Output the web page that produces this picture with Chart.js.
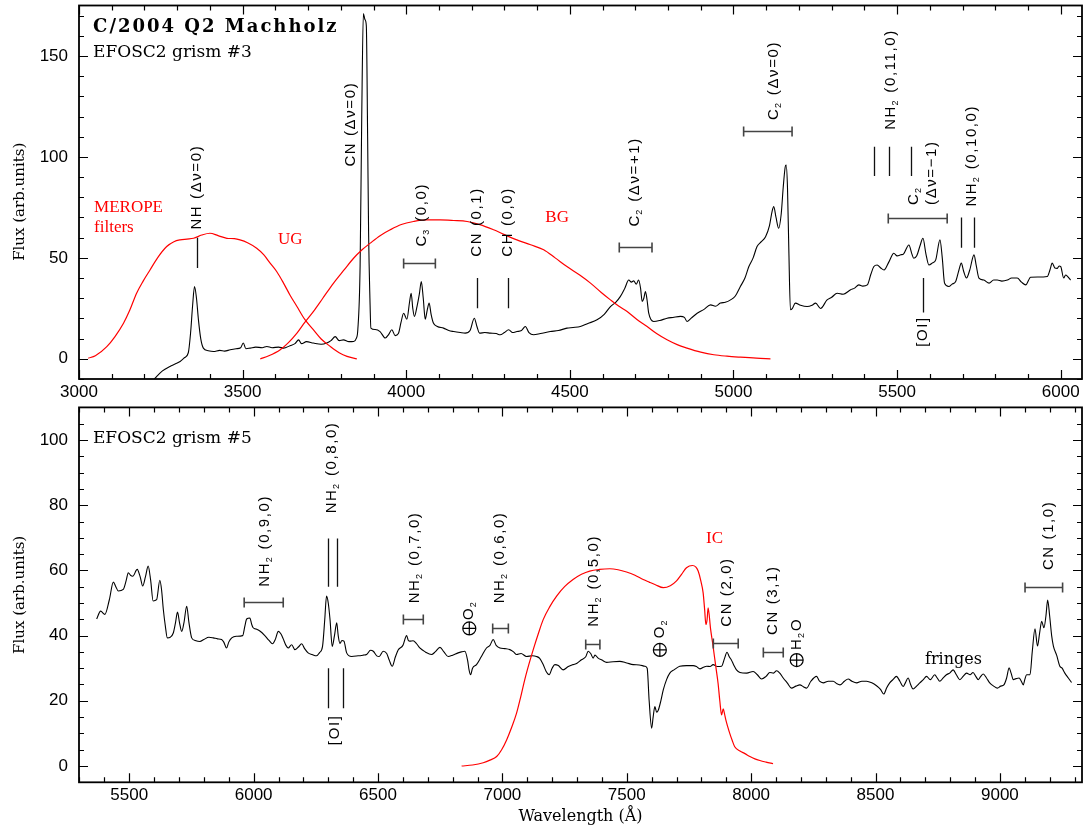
<!DOCTYPE html>
<html>
<head>
<meta charset="utf-8">
<script src="https://cdn.jsdelivr.net/npm/chart.js@4.4.0/dist/chart.umd.min.js"></script>
<style>
  html, body { margin: 0; padding: 0; background: #fff; }
  #wrap { position: relative; width: 1083px; height: 829px; }
  canvas { position: absolute; left: 0; }
  #top { top: 0; }
  #bot { top: 402px; }
</style>
</head>
<body>
<div id="wrap">
  <canvas id="top" width="1083" height="402"></canvas>
  <canvas id="bot" width="1083" height="427"></canvas>
</div>
<script>
// ---- grism #3 spectrum (Å, arb. units)
const topWave = [3230,3255,3278,3295,3309,3322,3334,3341,3347,3353,3359,3365,3372,3380,3395,3411,3430,3445,3462,3480,3494,3502,3510,3523,3540,3560,3574,3590,3610,3625,3645,3660,3671,3680,3695,3716,3740,3757,3770,3783,3795,3808,3825,3839,3847,3852,3859,3864,3869,3874,3878,3882,3885,3889,3892,3905,3920,3936,3946,3956,3966,3976,3984,3992,4002,4010,4015,4020,4025,4033,4040,4046,4052,4058,4064,4070,4076,4083,4095,4114,4130,4145,4165,4180,4195,4208,4216,4224,4240,4257,4275,4287,4300,4313,4325,4338,4352,4364,4375,4389,4410,4440,4465,4491,4510,4532,4555,4583,4605,4624,4640,4654,4668,4680,4688,4695,4703,4710,4716,4721,4726,4731,4736,4741,4756,4775,4797,4815,4838,4850,4858,4870,4889,4910,4930,4945,4960,4975,4991,5005,5021,5035,5047,5060,5072,5085,5098,5110,5118,5123,5130,5138,5146,5152,5158,5161,5165,5169,5174,5180,5189,5205,5225,5240,5251,5266,5286,5300,5317,5335,5358,5370,5383,5395,5409,5420,5429,5439,5450,5460,5475,5490,5500,5511,5520,5536,5545,5551,5560,5570,5579,5588,5597,5608,5618,5631,5638,5645,5658,5668,5679,5689,5696,5704,5712,5722,5735,5742,5750,5765,5781,5795,5806,5820,5837,5850,5867,5880,5893,5908,5930,5959,5967,5974,5982,5989,5995,6000,6009,6015,6020,6030];
const topFlux = [-10,-6,-3.8,-2.5,-1.3,0.5,3,12.9,26,35.8,30,19.3,10,5.3,4,3.6,4.2,3.8,4.5,5,5.5,7.8,5,5.3,5.8,5.5,6.1,5.5,5.8,5.3,6.5,7.5,9.4,7.5,8.5,7.8,7.2,7.8,9,11,9,9.4,8.5,8.6,10,14.4,45.7,120,171,168,165,110,62,30,15.2,14.5,13.5,10.3,12,14.4,11.5,12.5,18,22.6,19.6,28,32.5,25,21,26,32,38.3,30,19.6,24,27.6,22,17.7,16,15.2,14,13.5,13,12.7,14,20.1,16,12.7,13,12.7,12.5,11.9,13,14.4,13,13.5,14,16,13,11.9,12.5,13.5,14,15.2,15.5,16,17.5,19.3,22,25.9,28,30.8,35,39,38,38.6,37,39,35,28.4,30,33.3,29,22.6,18.5,19,20.1,20.5,21,20.5,18.5,20,22.6,24.5,26.7,26,27.6,28,29.2,31,35.8,40,45.7,50,55.6,58,60.5,66,73,75.4,70,64.7,72,85,95,96,85,55,24.3,25,27.6,26.5,25.9,26.5,27.6,24.9,29.2,30.5,32.5,32,34.2,35,36.6,36,36.6,42,45.7,46.5,45,44,48,52.3,51,51.5,52,56.4,52,49.8,51,56,59.7,52,46.5,47.5,49,58.9,50,37.5,35.8,37,38.3,44,47.4,43,40,44,51.5,46,40,39,37.5,39,39,38.5,39,40,40,38,36.6,40.4,40.5,40.8,44,47.4,45,44.8,46,45.7,40,41.5,41,39];

// ---- MEROPE filter curves, top panel
const ugWave = [3028,3050,3085,3110,3136,3155,3176,3196,3217,3240,3268,3290,3309,3330,3350,3375,3400,3425,3452,3475,3492,3515,3543,3565,3584,3605,3625,3645,3666,3690,3716,3740,3768,3795,3819,3849];
const ugFlux = [0.3,1.5,6,11,17.6,24,32.5,38.5,44,50,55.6,58,58.9,59.3,59.7,61.3,62.2,61,59.7,59.5,58.9,57.5,54.8,51.5,47.4,43,37.5,31.5,25.9,19.5,14.4,9.8,6.1,3,1.2,0];
const bgWave = [3554,3580,3615,3640,3666,3690,3716,3745,3778,3810,3839,3865,3890,3920,3951,3985,4022,4060,4104,4145,4186,4225,4267,4300,4338,4380,4420,4455,4491,4530,4563,4595,4624,4650,4675,4705,4736,4765,4797,4828,4858,4900,4940,4980,5021,5070,5113];
const bgFlux = [0,1.5,4.5,8,12.7,18,23.4,30,37.5,44,49.8,54,57.3,61,63.9,66.5,68,68.8,68.8,68.5,68,66.5,63.9,61.5,58.9,56.5,54,50,45.7,41.5,37.5,33,29.2,26,23.4,19.5,16,12.5,9.4,7,5.3,3.3,2,1.3,0.8,0.3,0];

// ---- grism #5 spectrum
const botWave = [5369,5385,5402,5420,5436,5446,5456,5476,5488,5496,5505,5514,5532,5544,5554,5565,5576,5586,5596,5610,5623,5630,5637,5645,5653,5665,5677,5686,5694,5702,5711,5720,5731,5740,5751,5765,5784,5800,5820,5838,5855,5871,5880,5891,5900,5912,5930,5956,5965,5972,5985,5992,5998,6010,6025,6045,6062,6076,6088,6099,6110,6119,6130,6139,6153,6166,6180,6193,6205,6219,6235,6253,6265,6277,6286,6293,6300,6307,6316,6325,6334,6340,6347,6355,6363,6374,6394,6420,6440,6454,6470,6481,6495,6505,6521,6535,6545,6557,6570,6581,6600,6615,6622,6628,6641,6655,6668,6690,6715,6730,6749,6765,6782,6800,6822,6835,6849,6860,6866,6872,6880,6896,6915,6936,6950,6963,6975,6990,7010,7030,7045,7057,7075,7097,7120,7137,7150,7164,7176,7188,7200,7211,7225,7244,7265,7284,7300,7318,7335,7345,7355,7365,7372,7385,7400,7419,7445,7472,7500,7526,7550,7573,7582,7590,7600,7606,7613,7620,7627,7637,7647,7660,7673,7690,7713,7740,7767,7780,7794,7808,7821,7835,7847,7865,7881,7893,7903,7912,7920,7930,7941,7955,7982,8008,8025,8042,8060,8075,8090,8102,8115,8129,8145,8162,8180,8196,8210,8223,8240,8263,8275,8290,8310,8330,8345,8357,8375,8390,8405,8424,8445,8464,8485,8504,8520,8533,8545,8557,8570,8584,8598,8611,8620,8631,8641,8651,8665,8678,8692,8705,8720,8738,8748,8758,8772,8785,8798,8812,8825,8839,8852,8866,8880,8892,8903,8913,8923,8933,8946,8959,8975,8990,9003,9016,9027,9037,9045,9054,9065,9077,9086,9094,9100,9107,9121,9130,9141,9151,9160,9168,9177,9185,9192,9200,9208,9215,9228,9241,9250,9261,9275,9288];
const botFlux = [45.1,47.5,46.5,51,56.4,55,53.7,54.2,57,59.3,58.5,58.2,60.3,58,55.2,58,61.3,57,50.6,51,57,54,48,43,39.3,39.5,40.8,44,47.2,44,41.3,44,49,44,39.3,38.5,38.2,38.8,39.5,39.3,39,38.8,38,36.2,38,39.3,39.8,40,43,45.1,45.4,43.5,42.4,42,41.4,40,38.5,37.5,39,41.3,40.5,39,37,36.2,37.2,35.7,36.5,37.5,36,34.7,34.2,33.8,34.8,36.7,45,52.1,50,45,36.7,40,43.9,40,37.6,38.5,38.3,34.7,33.6,33.8,34,34.2,35.5,35.2,33.8,33.6,35.2,34.5,32.5,30.6,33.5,35.6,37,40,38.5,38.3,38.4,37.5,36.2,35,34.2,35,36.4,35,33.6,34,34.7,35,35.2,32.5,29.5,28,30,31.1,33.5,36.2,37,38.8,37,36.2,36,35.7,35,34.2,34.5,33.6,33.8,33.6,33,31.1,29,28,30,31.1,30.8,29.5,30.5,31.1,31.5,32.6,33.5,35.2,34.5,33.1,34,33.1,32.5,31.8,32,32.1,31.6,31.1,31,30.6,30,20,11.6,15,18.2,16.5,17.2,20,23.4,26.5,28.5,29.5,30.6,30.8,30.8,30.5,29.8,30.3,30.6,30.5,31.1,30.5,30.6,33,34.9,33.5,32.6,31,29.5,28.7,28.5,29,28,26.7,27.5,28.7,28.5,29.2,28.5,27,25.5,23.9,24.5,24.9,24.3,23.9,26,27.5,26,25.5,26,26,25.2,24.9,26,26.7,26,25.5,26,26,25.5,24.6,23.5,22.1,24,25.5,26.5,27.5,26,24.4,25.5,27,25,23.6,24.5,25.5,26.5,27.5,26.5,28,27,26,27,28,28.5,29.5,28,26.5,27.5,28.5,28,28.7,27.5,26.5,27.5,28.2,27,25.5,24.5,23.9,24.5,24.9,27,30.1,28.5,26.5,26.8,27,26,24.9,26.5,28,28,35,42.1,36.8,41,44.4,42.4,46,50.9,46,40,36.8,34,30.6,30,28.5,27,25.6];

// ---- IC filter curve, bottom panel
const icWave = [6836,6880,6923,6950,6977,6997,7017,7037,7057,7073,7090,7107,7124,7144,7164,7190,7218,7250,7284,7318,7351,7390,7432,7465,7499,7533,7566,7590,7615,7647,7675,7700,7720,7740,7764,7778,7787,7797,7807,7813,7818,7823,7827,7837,7847,7857,7867,7874,7881,7888,7893,7898,7906,7914,7924,7934,7955,7975,7995,8015,8035,8060,8088];
const icFlux = [0,0.3,1,1.8,2.9,5,8,11.8,16.2,21,26.5,31.3,35.7,40.5,44.9,48.8,52.1,55,57.2,58.8,59.8,60.3,60.5,60.2,59.5,58.5,57.2,56.4,55.6,54.7,55.3,56.8,58.8,60.8,61.5,61,59.8,57,53.1,48,43.4,45,48.5,42,36.7,31,25.4,20,15.7,17.5,16,14.2,12,10,7.8,5.9,4.6,3.8,2.9,2.2,1.7,1.2,0.7];

// ---- axis ranges and ticks
const topXRange = [3000, 6065], topYRange = [-10, 175];
const botXRange = [5298, 9330], botYRange = [-5, 110];
const topTickSteps = [500, 100, 50, 10];   // x major, x minor, y major, y minor
const botTickSteps = [500, 100, 20, 5];

// ---- line identifications: [wavelength, flux from, flux to]
const topLines = [[3361,45,60],[4216,25,40],[4311,25,40],[5429,90.5,105],[5476,90.5,105],[5543,90.5,105],[5694,55,70],[5735,55,70],[5579,23,40]];
const botLines = [[6297,55,69.8],[6334,55,69.8],[6297,17.7,30],[6360,17.7,30]];
// band ranges: [wavelength from, to, flux]
const topBands = [[3992,4089,47.5],[4651,4751,55.3],[5031,5179,113],[5473,5653,69.6]];
const botBands = [[5962,6119,50.2],[6602,6682,45],[6961,7024,42.2],[7335,7392,37.4],[7848,7948,37.6],[8049,8129,35],[9101,9252,54.8]];
// vertical labels: [text, wavelength, flux at foot]  (_x = subscript)
const topTags = [['NH (Δν=0)',3361,64],['CN (Δν=0)',3831,95.2],['C_3 (0,0)',4048,55.6],['CN (0,1)',4216,50.6],['CH (0,0)',4311,50.6],['C_2 (Δν=+1)',4700,65.5],['C_2 (Δν=0)',5123,118.3],['NH_2 (0,11,0)',5480,113.4],['C_2',5551,76.2],['(Δν=−1)',5607,76.2],['NH_2 (0,10,0)',5730,75.4],['[OI]',5579,6]];
const botTags = [['NH_2 (0,9,0)',6045,55],['NH_2 (0,8,0)',6316,77.5],['[OI]',6327,6.4],['NH_2 (0,7,0)',6649,49.9],['O_2',6867,44.8],['NH_2 (0,6,0)',6990,49.9],['NH_2 (0,5,0)',7368,42.7],['O_2',7633,39.2],['CN (2,0)',7901,42.7],['CN (3,1)',8089,40.2],['H_2O',8183,35.6],['CN (1,0)',9197,60.1]];
// telluric symbols: [wavelength, flux]
const botEarth = [[6867,42.2],[7633,35.6],[8183,32.5]];
// plain texts: [text, wavelength (left edge), flux]
const topTitle = [['C/2004 Q2 Machholz',3043,164]];
const topGrism = [['EFOSC2 grism #3',3043,151.5]];
const topFilterNames = [['MEROPE',3046,74.8],['filters',3046,64.9],['UG',3608,58.9],['BG',4425,69.8]];
const botGrism = [['EFOSC2 grism #5',5354,100.3]];
const botFilterNames = [['IC',7819,69.9]];
const botNotes = [['fringes',8699,32.5]];

const SANS = '"Liberation Sans", Arial, sans-serif';
const SERIF = '"DejaVu Serif", serif';
const LSERIF = '"Liberation Serif", serif';

function pts(xs, ys) { return xs.map((x, i) => ({ x, y: ys[i] })); }

function majorTicks(step) {
  return s => {
    const t = [];
    for (let v = Math.ceil(s.min / step) * step; v <= s.max; v += step) t.push({ value: v });
    s.ticks = t;
  };
}

function drawTag(ctx, text, px, py) {
  const size = 15;
  ctx.save();
  ctx.translate(Math.round(px), py);
  ctx.rotate(-Math.PI / 2);
  ctx.textAlign = 'left';
  ctx.textBaseline = 'middle';
  ctx.letterSpacing = '1.6px';
  let cx = 0;
  text.split(/(_.)/).forEach(p => {
    if (!p) return;
    if (p[0] === '_') {
      ctx.font = `${Math.round(size * 0.62)}px ${SANS}`;
      ctx.fillText(p[1], cx - 0.5, size * 0.27);
      cx += ctx.measureText(p[1]).width;
    } else {
      ctx.font = `${size}px ${SANS}`;
      ctx.fillText(p, cx, 0);
      cx += ctx.measureText(p).width;
    }
  });
  ctx.restore();
}

const frame = {
  id: 'frame',
  afterDraw(chart, args, o) {
    const { ctx, chartArea: a, scales: { x, y } } = chart;
    const [xMaj, xMin, yMaj, yMin] = o.steps;
    ctx.save();
    ctx.strokeStyle = '#000';
    ctx.lineWidth = 1.2;
    ctx.beginPath();
    for (let v = Math.ceil(x.min / xMin) * xMin; v <= x.max; v += xMin) {
      const p = Math.round(x.getPixelForValue(v)) + 0.5;
      const L = v % xMaj === 0 ? 9 : 5;
      ctx.moveTo(p, a.bottom); ctx.lineTo(p, a.bottom - L);
      ctx.moveTo(p, a.top); ctx.lineTo(p, a.top + L);
    }
    for (let v = Math.ceil(y.min / yMin) * yMin; v <= y.max; v += yMin) {
      const p = Math.round(y.getPixelForValue(v)) + 0.5;
      const L = v % yMaj === 0 ? 9 : 5;
      ctx.moveTo(a.left, p); ctx.lineTo(a.left + L, p);
      ctx.moveTo(a.right, p); ctx.lineTo(a.right - L, p);
    }
    ctx.stroke();
    ctx.lineWidth = 1.8;
    ctx.strokeRect(a.left, a.top, a.right - a.left, a.bottom - a.top);
    ctx.restore();
  }
};

const notes = {
  id: 'notes',
  afterDatasetsDraw(chart, args, o) {
    const { ctx, scales: { x, y } } = chart;
    const X = v => x.getPixelForValue(v), Y = v => y.getPixelForValue(v);
    ctx.save();
    ctx.strokeStyle = '#111';
    ctx.lineWidth = 1.3;
    ctx.beginPath();
    o.lines.forEach(([w, f1, f2]) => {
      const px = Math.round(X(w)) + 0.5;
      ctx.moveTo(px, Y(f1)); ctx.lineTo(px, Y(f2));
    });
    ctx.stroke();
    ctx.strokeStyle = '#444';
    ctx.lineWidth = 1.6;
    ctx.beginPath();
    o.bands.forEach(([w1, w2, f]) => {
      const py = Math.round(Y(f)) + 0.5, a = X(w1), b = X(w2);
      ctx.moveTo(a, py); ctx.lineTo(b, py);
      ctx.moveTo(a, py - 5); ctx.lineTo(a, py + 5);
      ctx.moveTo(b, py - 5); ctx.lineTo(b, py + 5);
    });
    ctx.stroke();
    ctx.strokeStyle = '#000';
    ctx.lineWidth = 1.2;
    (o.earth || []).forEach(([w, f]) => {
      const cx = X(w), cy = Y(f), r = 6.5;
      ctx.beginPath();
      ctx.arc(cx, cy, r, 0, Math.PI * 2);
      ctx.moveTo(cx - r, cy); ctx.lineTo(cx + r, cy);
      ctx.moveTo(cx, cy - r); ctx.lineTo(cx, cy + r);
      ctx.stroke();
    });
    ctx.fillStyle = '#000';
    o.tags.forEach(([t, w, f]) => drawTag(ctx, t, X(w), Y(f)));
    o.texts.forEach(g => {
      ctx.font = g.font;
      ctx.fillStyle = g.color;
      ctx.letterSpacing = g.spacing || '0px';
      ctx.textAlign = 'left';
      ctx.textBaseline = 'middle';
      g.items.forEach(([t, w, f]) => ctx.fillText(t, X(w), Y(f)));
    });
    ctx.restore();
  }
};

function panel(id, p) {
  return new Chart(document.getElementById(id), {
    type: 'line',
    data: { datasets: p.datasets },
    options: {
      responsive: false,
      animation: false,
      events: [],
      layout: { padding: { top: p.padTop, right: 1, left: 0, bottom: 0 } },
      elements: { point: { radius: 0 } },
      plugins: {
        legend: { display: false },
        tooltip: { enabled: false },
        frame: { steps: p.steps },
        notes: p.notes
      },
      scales: {
        x: {
          type: 'linear', min: p.xr[0], max: p.xr[1],
          grid: { display: false, drawTicks: false },
          border: { display: false },
          afterBuildTicks: majorTicks(p.steps[0]),
          ticks: {
            autoSkip: false, maxRotation: 0,
            padding: p.xPad, color: '#000', font: { family: SANS, size: 17 },
            callback: v => String(v)
          },
          title: p.xTitle ? {
            display: true, text: p.xTitle, color: '#000',
            font: { family: SERIF, size: 16 }, padding: { top: 0, bottom: 3 }
          } : { display: false },
          afterFit: s => { s.height = p.xHeight; s.paddingLeft = 0; s.paddingRight = 0; }
        },
        y: {
          min: p.yr[0], max: p.yr[1],
          grid: { display: false, drawTicks: false },
          border: { display: false },
          afterBuildTicks: majorTicks(p.steps[2]),
          ticks: {
            autoSkip: false,
            padding: 11, color: '#000', font: { family: SANS, size: 17 },
            callback: v => String(v)
          },
          title: {
            display: true, text: p.yTitle, color: '#000',
            font: { family: SERIF, size: 15 }, padding: { top: 11, bottom: 0 }
          },
          afterFit: s => { s.width = 79; s.paddingTop = 0; s.paddingBottom = 0; }
        }
      }
    },
    plugins: [frame, notes]
  });
}

const red = { borderColor: '#ff0000', borderWidth: 1.2, cubicInterpolationMode: 'monotone' };
const black = { borderColor: '#000', borderWidth: 1.1, cubicInterpolationMode: 'monotone' };

panel('top', {
  xr: topXRange, yr: topYRange, steps: topTickSteps,
  padTop: 5.5, xHeight: 23, xPad: 3,
  yTitle: 'Flux (arb.units)\u00a0\u00a0\u00a0\u00a0',
  datasets: [
    { data: pts(ugWave, ugFlux), ...red },
    { data: pts(bgWave, bgFlux), ...red },
    { data: pts(topWave, topFlux), ...black }
  ],
  notes: {
    lines: topLines, bands: topBands, tags: topTags,
    texts: [
      { items: topTitle, font: `bold 18px ${SERIF}`, color: '#000', spacing: '2px' },
      { items: topGrism, font: `17px ${SERIF}`, color: '#000' },
      { items: topFilterNames, font: `17px ${LSERIF}`, color: '#ff0000' }
    ]
  }
});

panel('bot', {
  xr: botXRange, yr: botYRange, steps: botTickSteps,
  padTop: 5.4, xHeight: 46.7, xPad: 2.5, xTitle: 'Wavelength (Å)',
  yTitle: 'Flux (arb.units)',
  datasets: [
    { data: pts(icWave, icFlux), ...red },
    { data: pts(botWave, botFlux), ...black }
  ],
  notes: {
    lines: botLines, bands: botBands, tags: botTags, earth: botEarth,
    texts: [
      { items: botGrism, font: `17px ${SERIF}`, color: '#000' },
      { items: botFilterNames, font: `17px ${LSERIF}`, color: '#ff0000' },
      { items: botNotes, font: `16px ${SERIF}`, color: '#000' }
    ]
  }
});
</script>
</body>
</html>
